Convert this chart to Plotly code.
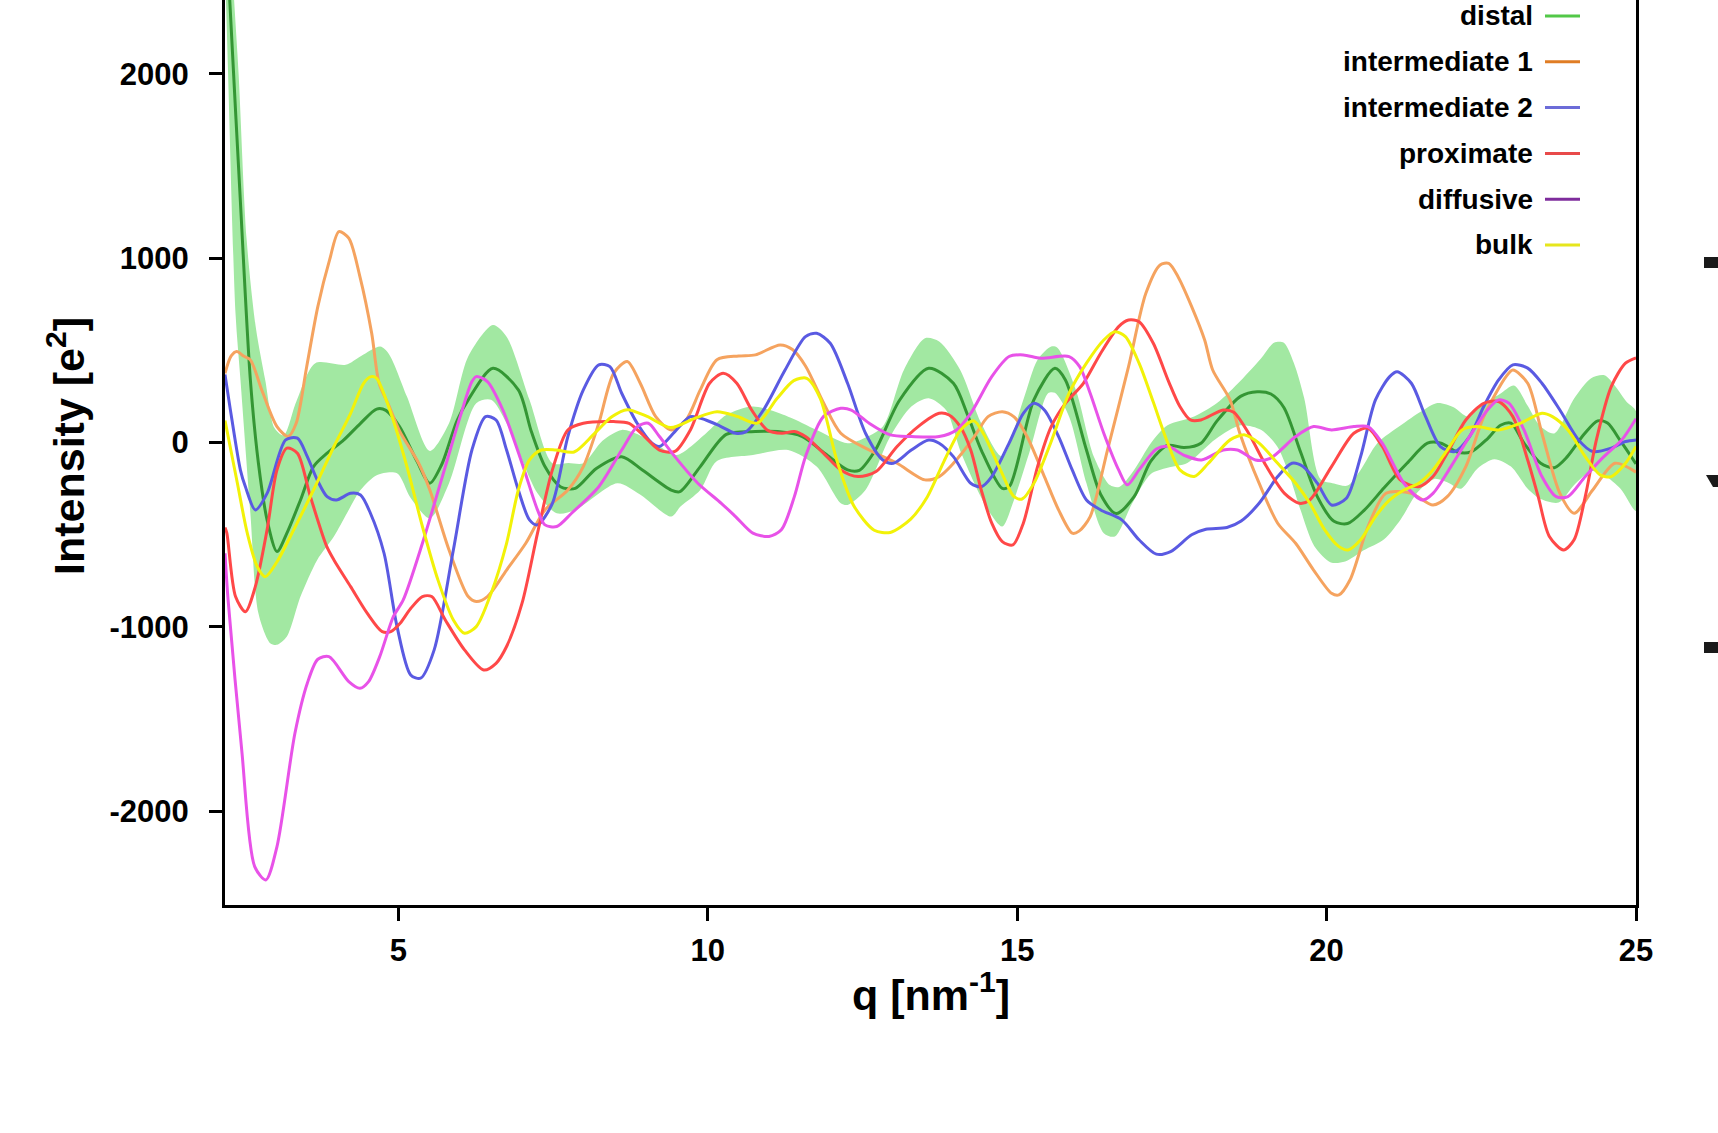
import plotly.graph_objects as go

# ---- scattering intensity profiles, q in nm^-1, intensity in e^2 ----
distal_q = [2.2, 2.3, 2.45, 2.61, 2.74, 2.88, 3.04, 3.2, 3.42, 3.63, 3.85, 4.12, 4.39, 4.65, 4.8, 5.02,
            5.3, 5.51, 5.7, 5.95, 6.13, 6.53, 6.94, 7.15, 7.37, 7.62, 7.86, 8.2, 8.61, 8.95, 9.41, 9.55,
            9.88, 10.3, 10.77, 11.13, 11.53, 11.9, 12.26, 12.45, 12.71, 13.1, 13.57, 13.97, 14.2, 14.42,
            14.76, 14.88, 15.27, 15.61, 15.78, 16.12, 16.35, 16.6, 16.89, 17.16, 17.43, 17.7, 17.97,
            18.23, 18.61, 18.88, 19.1, 19.31, 19.58, 19.85, 20.12, 20.34, 20.61, 20.93, 21.3, 21.63,
            21.85, 22.11, 22.33, 22.6, 22.81, 22.98, 23.19, 23.46, 23.68, 23.89, 24.16, 24.38, 24.54,
            24.75, 25.0]
distal_i = [2900, 2250, 1300, 340, -112, -419, -591, -491, -311, -130, -57, 15, 105, 182, 175, 87,
            -100, -220, -120, 120, 232, 403, 286, 60, -130, -239, -248, -140, -76, -150, -257, -266,
            -130, 45, 60, 60, 33, -60, -148, -150, -40, 230, 403, 322, 150, -40,
            -248, -235, 232, 403, 340, -40, -281, -385, -293, -100, -15, -27, -3,
            118, 251, 276, 264, 191, -51, -293, -427, -439, -366, -245, -112, -3,
            -3, -51, -51, 21, 94, 106, -3, -112, -136, -76, 45, 118, 106,
            9, -115]

# spread of the distal profile (upper / lower envelope)
distal_hi_q = [2.2, 2.33, 2.42, 2.55, 2.7, 2.85, 3.0, 3.15, 3.35, 3.66, 4.15, 4.4, 4.71, 4.85, 5.14,
               5.51, 5.82, 6.13, 6.53, 6.75, 7.12, 7.49, 7.75, 7.99, 8.3, 8.61, 8.9, 9.22, 9.5, 9.97,
               10.3, 10.73, 11.3, 11.76, 12.26, 12.5, 12.83, 13.17, 13.51, 13.74, 14.08, 14.42, 14.76,
               15.1, 15.33, 15.55, 15.65, 15.95, 16.24, 16.5, 16.65, 16.89, 17.16, 17.43, 17.86, 18.23,
               18.61, 18.94, 19.15, 19.31, 19.47, 19.64, 19.9, 20.12, 20.34, 20.55, 20.82, 21.2, 21.52,
               21.79, 22.06, 22.28, 22.5, 22.8, 23.03, 23.25, 23.45, 23.68, 24.0, 24.27, 24.49, 24.65,
               24.85, 25.0]
distal_hi_i = [3400, 2500, 2000, 1100, 620, 340, 80, 40, 220, 431, 422, 470, 521, 480, 250,
               -45, 105, 467, 638, 575, 232, -112, -110, -112, 10, 69, 40, -21, -67, 50,
               150, 196, 141, 69, -3, 20, 87, 394, 566, 548, 394, 105, -76,
               232, 449, 521, 515, 286, -76, -230, -240, -148, -3, 94, 142, 215,
               336, 457, 542, 542, 433, 239, -197, -221, -233, -148, -3, 94, 167,
               215, 191, 142, 200, 264, 310, 200, 90, 50, 239, 348, 365, 312,
               220, 170]
distal_lo_q = [2.2, 2.25, 2.37, 2.45, 2.61, 2.74, 2.93, 3.04, 3.2, 3.42, 3.69, 3.96, 4.17, 4.39, 4.66,
               4.98, 5.2, 5.51, 5.82, 6.26, 6.5, 6.75, 7.25, 7.56, 7.86, 8.54, 8.9, 9.41, 9.56, 9.88,
               10.15, 10.73, 11.3, 11.76, 12.15, 12.26, 12.55, 12.95, 13.29, 13.57, 13.85, 14.1, 14.53,
               14.76, 14.93, 15.21, 15.5, 15.61, 15.84, 16.12, 16.4, 16.58, 16.86, 17.16, 17.43, 17.75,
               18.21, 18.61, 18.94, 19.2, 19.37, 19.58, 19.8, 20.07, 20.3, 20.6, 20.93, 21.2, 21.47,
               21.74, 21.95, 22.17, 22.44, 22.71, 22.98, 23.25, 23.46, 23.75, 24.0, 24.27, 24.49, 24.75,
               25.0]
distal_lo_i = [2600, 2000, 700, 340, -383, -926, -1088, -1097, -1052, -835, -636, -509, -383, -257, -175,
               -166, -300, -410, -220, 213, 232, 105, -275, -383, -365, -220, -280, -401, -347, -257,
               -100, -67, -40, -130, -329, -338, -257, 33, 196, 241, 177, -60, -365,
               -455, -329, -40, 268, 270, 141, -220, -491, -509, -329, -170, -136, -110,
               20, 94, 70, -20, -148, -366, -560, -650, -645, -584, -524, -415, -269,
               -197, -215, -250, -140, -90, -130, -250, -306, -325, -230, -155, -178, -250,
               -370]

int1_q = [2.2, 2.3, 2.39, 2.5, 2.61, 2.8, 3.04, 3.22, 3.35, 3.52, 3.7, 3.89, 4.04, 4.2, 4.38, 4.57,
          4.69, 4.85, 5.02, 5.33, 5.51, 5.82, 6.13, 6.26, 6.44, 6.75, 7.06, 7.37, 7.74, 7.99, 8.24,
          8.48, 8.7, 8.91, 9.16, 9.41, 9.65, 9.88, 10.15, 10.5, 10.77, 11.17, 11.37, 11.58, 11.87,
          12.15, 12.61, 13.06, 13.51, 13.74, 13.97, 14.31, 14.53, 14.76, 14.95, 15.16, 15.44, 15.67,
          15.89, 16.0, 16.18, 16.46, 16.8, 17.08, 17.31, 17.45, 17.6, 17.82, 18.03, 18.16, 18.44,
          18.6, 18.91, 19.21, 19.5, 19.79, 20.08, 20.2, 20.38, 20.67, 20.96, 21.37, 21.72, 21.95,
          22.25, 22.54, 22.9, 23.01, 23.25, 23.48, 23.77, 24.0, 24.3, 24.66, 25.0]
int1_i = [376, 470, 494, 470, 449, 280, 87, 33, 105, 412, 738, 991, 1145, 1109, 901, 594,
          322, 200, 64, -112, -257, -582, -835, -862, -835, -691, -546, -365, -257, -130, 105,
          376, 440, 322, 141, 69, 123, 286, 450, 470, 476, 530, 505, 416, 217,
          51, -40, -112, -202, -184, -112, 33, 141, 168, 140, 33, -184, -365,
          -491, -480, -401, -40, 412, 810, 964, 972, 900, 738, 557, 394, 232,
          50, -220, -437, -546, -691, -817, -826, -744, -455, -275, -275, -338, -293,
          -130, 141, 358, 394, 322, 51, -275, -383, -257, -112, -160]

int2_q = [2.2, 2.3, 2.45, 2.53, 2.69, 2.88, 3.18, 3.37, 3.53, 3.69, 3.85, 4.0, 4.23, 4.39, 4.55, 4.77,
          4.98, 5.2, 5.36, 5.58, 5.89, 6.19, 6.41, 6.58, 6.75, 6.94, 7.12, 7.25, 7.49, 7.74, 7.99,
          8.24, 8.42, 8.61, 8.86, 9.1, 9.22, 9.47, 9.72, 9.97, 10.2, 10.45, 10.62, 10.9, 11.25,
          11.58, 11.76, 11.98, 12.26, 12.55, 12.83, 13.0, 13.29, 13.57, 13.74, 13.97, 14.25, 14.42,
          14.59, 14.87, 15.1, 15.27, 15.44, 15.67, 15.89, 16.12, 16.35, 16.69, 16.97, 17.25, 17.48,
          17.82, 18.05, 18.39, 18.62, 18.91, 19.21, 19.44, 19.62, 19.85, 20.08, 20.32, 20.55, 20.79,
          21.02, 21.14, 21.37, 21.6, 21.84, 22.07, 22.31, 22.54, 22.78, 23.01, 23.25, 23.48, 23.77,
          24.07, 24.3, 24.6, 24.83, 25.0]
int2_i = [370, 150, -150, -239, -365, -275, 15, 24, -76, -202, -293, -311, -275, -284, -383, -600,
          -998, -1260, -1278, -1124, -582, -40, 141, 123, -40, -257, -419, -446, -329, 33, 286,
          422, 412, 268, 105, -3, -21, 60, 141, 123, 90, 51, 60, 177, 394,
          575, 593, 539, 322, 51, -94, -112, -40, 14, -3, -76, -220, -239,
          -184, -3, 159, 213, 177, 33, -148, -311, -365, -419, -527, -605, -591,
          -500, -470, -460, -425, -329, -184, -112, -130, -220, -338, -302, -76, 232,
          358, 385, 322, 141, -21, -48, 33, 196, 340, 422, 404, 322, 177,
          15, -48, -30, 6, 15]

prox_q = [2.2, 2.23, 2.37, 2.53, 2.69, 2.88, 3.04, 3.2, 3.37, 3.58, 3.84, 3.96, 4.23, 4.5, 4.74, 4.88,
          5.03, 5.2, 5.39, 5.54, 5.76, 6.07, 6.38, 6.58, 6.75, 7.0, 7.25, 7.49, 7.74, 7.99, 8.48,
          8.73, 8.98, 9.22, 9.47, 9.72, 10.03, 10.25, 10.47, 10.71, 10.96, 11.2, 11.4, 11.58, 11.87,
          12.15, 12.43, 12.72, 13.06, 13.4, 13.74, 13.9, 14.08, 14.25, 14.42, 14.59, 14.76, 14.93,
          15.1, 15.33, 15.55, 15.78, 16.07, 16.35, 16.64, 16.8, 16.97, 17.2, 17.45, 17.63, 17.8,
          17.97, 18.33, 18.5, 18.74, 19.03, 19.32, 19.56, 19.73, 20.08, 20.44, 20.67, 20.9, 21.19,
          21.49, 21.72, 21.95, 22.25, 22.54, 22.78, 23.01, 23.25, 23.42, 23.6, 23.83, 24.0, 24.18,
          24.36, 24.6, 24.83, 25.0]
prox_i = [-460, -491, -835, -917, -781, -473, -148, -30, -57, -293, -560, -636, -781, -926, -1025, -1025,
          -980, -900, -835, -835, -962, -1124, -1233, -1197, -1106, -871, -491, -148, 69, 105, 114,
          105, 33, -40, -48, 69, 322, 376, 322, 177, 69, 51, 60, 33, -57,
          -148, -184, -157, -21, 87, 159, 150, 87, -40, -257, -437, -537, -555,
          -437, -130, 87, 213, 322, 485, 629, 665, 656, 539, 330, 196, 123,
          123, 177, 165, 51, -130, -275, -329, -311, -130, 51, 78, -21, -202,
          -239, -184, -57, 123, 213, 223, 141, -94, -293, -509, -582, -527, -293,
          15, 304, 431, 460]

diff_q = [2.2, 2.25, 2.47, 2.68, 2.86, 3.04, 3.33, 3.53, 3.7, 3.88, 4.2, 4.38, 4.52, 4.7, 4.92, 5.08,
          5.39, 5.76, 6.0, 6.19, 6.26, 6.44, 6.69, 7.0, 7.25, 7.37, 7.56, 7.8, 8.24, 8.61, 8.86,
          9.04, 9.22, 9.47, 9.84, 10.22, 10.45, 10.73, 10.99, 11.19, 11.4, 11.58, 11.87, 12.15, 12.32,
          12.61, 12.95, 13.29, 13.74, 14.02, 14.25, 14.59, 14.87, 15.1, 15.38, 15.84, 16.01, 16.18,
          16.4, 16.64, 16.78, 16.97, 17.25, 17.43, 17.71, 17.98, 18.33, 18.56, 18.85, 19.09, 19.5,
          19.79, 20.08, 20.44, 20.67, 20.9, 21.25, 21.55, 21.72, 22.01, 22.31, 22.6, 22.78, 22.95,
          23.19, 23.48, 23.71, 23.9, 24.18, 24.48, 24.77, 25.0]
diff_i = [-600, -853, -1667, -2300, -2372, -2191, -1576, -1305, -1175, -1161, -1296, -1332, -1296, -1161, -944, -853,
          -546, -130, 141, 331, 358, 331, 177, -112, -365, -446, -455, -383, -239, -40, 87,
          105, 33, -76, -220, -329, -401, -491, -509, -473, -293, -76, 141, 186, 177,
          105, 42, 33, 33, 69, 159, 358, 467, 476, 458, 467, 412, 268,
          51, -148, -229, -148, -35, -20, -70, -94, -40, -40, -94, -85, 33,
          87, 69, 87, 87, -3, -220, -311, -275, -130, 33, 177, 232, 213,
          69, -184, -293, -293, -184, -76, 15, 130]

bulk_q = [2.2, 2.4, 2.56, 2.72, 2.85, 3.04, 3.31, 3.63, 3.96, 4.23, 4.44, 4.56, 4.65, 4.89, 5.14, 5.39,
          5.64, 5.89, 6.07, 6.26, 6.5, 6.75, 6.94, 7.12, 7.31, 7.55, 7.84, 8.16, 8.45, 8.7, 9.02,
          9.4, 9.78, 10.15, 10.48, 10.8, 11.12, 11.39, 11.6, 11.82, 12.09, 12.36, 12.69, 12.95, 13.28,
          13.55, 13.82, 14.09, 14.3, 14.46, 14.73, 14.95, 15.08, 15.27, 15.54, 15.84, 16.12, 16.4,
          16.58, 16.75, 16.97, 17.2, 17.42, 17.63, 17.86, 18.09, 18.44, 18.68, 18.91, 19.21, 19.5,
          19.73, 19.97, 20.2, 20.35, 20.55, 20.79, 21.02, 21.25, 21.49, 21.72, 21.95, 22.19, 22.42,
          22.78, 23.13, 23.48, 23.65, 23.9, 24.18, 24.42, 24.6, 24.83, 25.0]
bulk_i = [120, -220, -491, -672, -727, -646, -473, -257, -21, 159, 322, 358, 349, 150, -130, -455,
          -744, -962, -1034, -998, -817, -546, -257, -94, -40, -40, -51, 46, 140, 179, 142,
          82, 130, 167, 142, 106, 239, 336, 349, 239, -100, -342, -475, -487, -415,
          -293, -100, 70, 118, 46, -148, -293, -306, -221, -3, 268, 431, 557,
          602, 575, 431, 220, 10, -148, -184, -112, 15, 42, -3, -112, -220,
          -329, -473, -564, -582, -527, -401, -311, -257, -220, -148, -40, 69, 87,
          69, 105, 159, 141, 69, -76, -175, -184, -112, -21]

series_names = ["distal", "intermediate 1", "intermediate 2", "proximate", "diffusive", "bulk"]
x_ticks = [5, 10, 15, 20, 25]
y_ticks = [-2000, -1000, 0, 1000, 2000]

# ---- styling ----
line_colors = {
    "distal": "rgb(52,150,52)",
    "intermediate 1": "#f5a35f",
    "intermediate 2": "#5a5ae2",
    "proximate": "#ff4848",
    "diffusive": "#e852e8",
    "bulk": "#f2f208",
}
key_colors = ["#52c848", "#e07d24", "#6c6cd8", "#e84a4a", "#7e2c9c", "#e6e61c"]
band_color = "#a2e8a2"

W, H = 1718, 1133
ML, MR, MT, MB = 225, 82, 0, 228
PW, PH = W - ML - MR, H - MT - MB


def px(xpix):
    return (xpix - ML) / PW


def py(ypix):
    return (H - MB - ypix) / PH


FONT = "Liberation Sans, Arial, Helvetica, sans-serif"

fig = go.Figure()

# envelope around the distal profile
fig.add_trace(go.Scatter(
    x=distal_hi_q + distal_lo_q[::-1],
    y=distal_hi_i + distal_lo_i[::-1],
    fill="toself", fillcolor=band_color, mode="lines",
    line=dict(width=0, shape="spline", smoothing=0.8),
    hoverinfo="skip", showlegend=False,
))

profiles = [
    ("distal", distal_q, distal_i),
    ("intermediate 1", int1_q, int1_i),
    ("intermediate 2", int2_q, int2_i),
    ("proximate", prox_q, prox_i),
    ("diffusive", diff_q, diff_i),
    ("bulk", bulk_q, bulk_i),
]
for name, q, inten in profiles:
    fig.add_trace(go.Scatter(
        x=q, y=inten, name=name, mode="lines",
        line=dict(color=line_colors[name], width=3, shape="spline", smoothing=0.8),
        showlegend=False,
    ))

axis_common = dict(
    showline=True, linewidth=3, linecolor="black",
    ticks="outside", ticklen=13, tickwidth=3, tickcolor="black",
    showgrid=False, zeroline=False,
    tickfont=dict(family=FONT, size=31, color="black", weight="bold"),
)

fig.update_layout(
    width=W, height=H,
    margin=dict(l=ML, r=MR, t=MT, b=MB, pad=0),
    paper_bgcolor="white", plot_bgcolor="white",
    xaxis=dict(range=[2.2, 25], tickvals=x_ticks, ticktext=[str(v) for v in x_ticks],
               ticklabelstandoff=3, **axis_common),
    yaxis=dict(range=[-2508, 2401], tickvals=y_ticks, ticktext=[str(v) for v in y_ticks],
               mirror=True, ticklabelstandoff=14, **axis_common),
    showlegend=False,
)

annotations = [
    dict(text="<b>Intensity [e<sup>2</sup>]</b>", xref="paper", yref="paper",
         x=px(66), y=py(446), xanchor="center", yanchor="middle", textangle=-90,
         showarrow=False, font=dict(family=FONT, size=43, color="black")),
    dict(text="<b>q [nm<sup>-1</sup>]</b>", xref="paper", yref="paper",
         x=px(931), y=py(992), xanchor="center", yanchor="middle",
         showarrow=False, font=dict(family=FONT, size=43, color="black")),
]

shapes = []
# legend with text on the left of each key line
row0, row_step = 16, 45.8
for k, (name, col) in enumerate(zip(series_names, key_colors)):
    yk = row0 + k * row_step
    annotations.append(dict(
        text="<b>%s</b>" % name, xref="paper", yref="paper",
        x=px(1535), y=py(yk), xanchor="right", yanchor="middle",
        showarrow=False, font=dict(family=FONT, size=28, color="black"),
    ))
    shapes.append(dict(type="line", xref="paper", yref="paper",
                       x0=px(1545), x1=px(1580), y0=py(yk), y1=py(yk),
                       line=dict(color=col, width=3)))

# edge of the neighbouring panel
for y0, y1 in [(257, 268), (642, 653)]:
    shapes.append(dict(type="rect", xref="paper", yref="paper",
                       x0=px(1704), x1=px(1720), y0=py(y1), y1=py(y0),
                       line=dict(width=0), fillcolor="#1a1a1a"))
shapes.append(dict(type="path", xref="paper", yref="paper",
                   path="M %f %f L %f %f L %f %f L %f %f Z" % (
                       px(1706), py(475), px(1720), py(475),
                       px(1720), py(487), px(1713), py(487)),
                   line=dict(width=0), fillcolor="#1a1a1a"))

fig.update_layout(annotations=annotations, shapes=shapes)

fig.write_html("out.html")
